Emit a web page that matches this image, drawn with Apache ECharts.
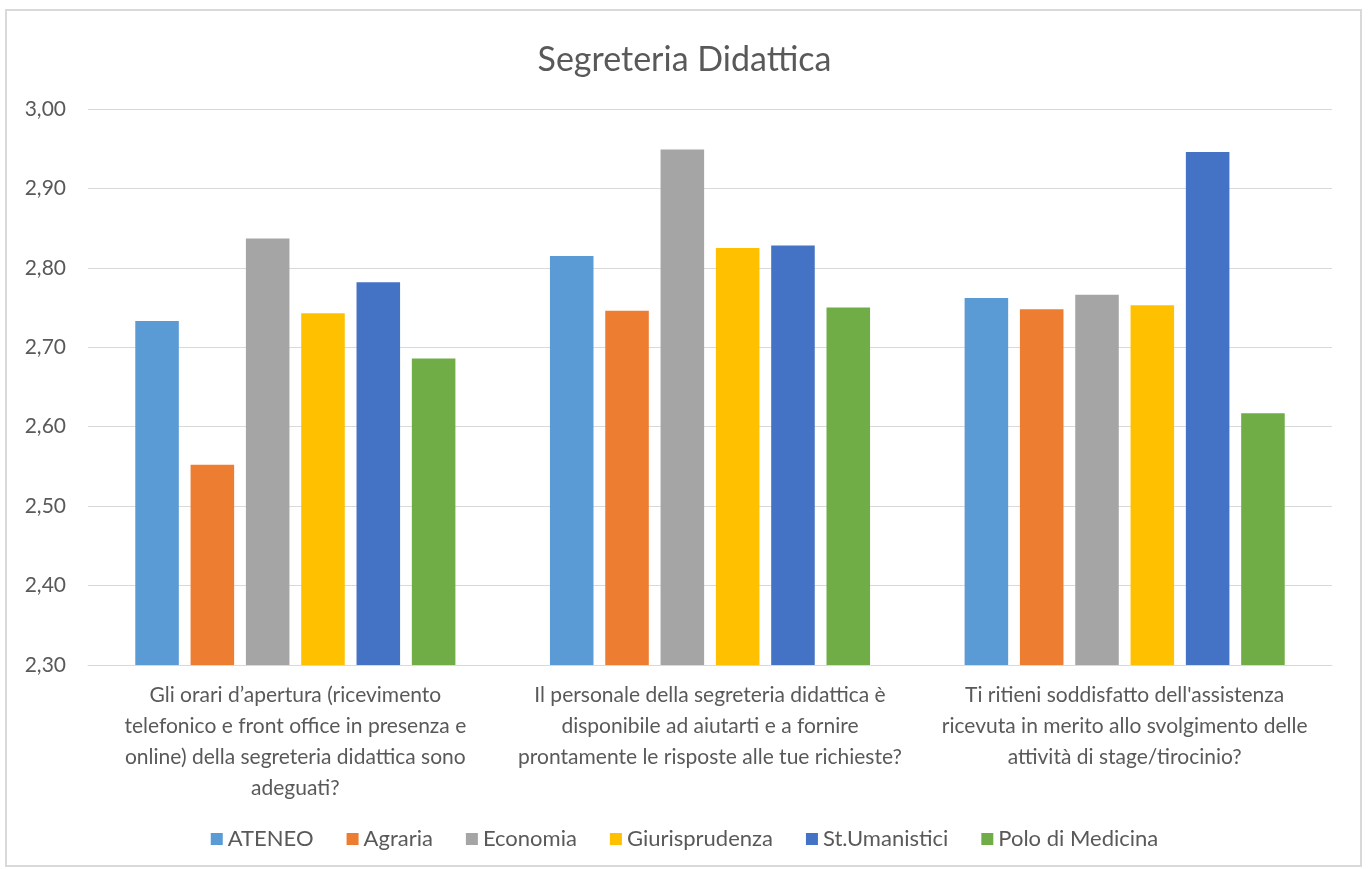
<!DOCTYPE html>
<html>
<head>
<meta charset="utf-8">
<script src="https://cdn.jsdelivr.net/npm/echarts@6/dist/echarts.min.js"></script>
<style>
  html, body { margin: 0; padding: 0; background: #fff; }
  #main { width: 1369px; height: 870px; }
</style>
</head>
<body>
<div id="main"></div>
<script>
// domande (assi x)
var categories = [
  'Gli orari d\u2019apertura (ricevimento\ntelefonico e front office in presenza e\nonline) della segreteria didattica sono\nadeguati?',
  'Il personale della segreteria didattica è\ndisponibile ad aiutarti e a fornire\nprontamente le risposte alle tue richieste?',
  'Ti ritieni soddisfatto dell\'assistenza\nricevuta in merito allo svolgimento delle\nattività di stage/tirocinio?'
]
var seriesNames = ['ATENEO', 'Agraria', 'Economia', 'Giurisprudenza', 'St.Umanistici', 'Polo di Medicina']
var ateneo = [2.733, 2.815, 2.762]
var agraria = [2.552, 2.746, 2.748]
var economia = [2.837, 2.949, 2.766]
var giurisprudenza = [2.743, 2.825, 2.753]
var umanistici = [2.782, 2.828, 2.946]
var medicina = [2.686, 2.750, 2.617]
var colori = ['#5B9BD5', '#ED7D31', '#A5A5A5', '#FFC000', '#4472C4', '#70AD47']

var valori = [ateneo, agraria, economia, giurisprudenza, umanistici, medicina]
var font = 'Lato, "Open Sans", sans-serif'

var chart = echarts.init(document.getElementById('main'))

var series = seriesNames.map(function (nome, i) {
  return {
    name: nome,
    type: 'bar',
    data: valori[i],
    barGap: '27%',
    barCategoryGap: '22.8%',
    itemStyle: { color: colori[i] }
  }
})

var option = {
  animation: false,
  color: colori,
  title: {
    text: 'Segreteria Didattica',
    left: 'center',
    top: 38,
    textStyle: { fontFamily: font, fontSize: 34, fontWeight: 'normal', color: '#595959' }
  },
  graphic: [{
    type: 'rect',
    shape: { x: 6, y: 10, width: 1355, height: 856 },
    style: { fill: 'none', stroke: '#d9d9d9', lineWidth: 2 },
    silent: true
  }],
  legend: {
    data: seriesNames,
    bottom: 15,
    left: 'center',
    icon: 'rect',
    itemWidth: 12,
    itemHeight: 12,
    itemGap: 33,
    textStyle: { fontFamily: font, fontSize: 22, color: '#595959' }
  },
  grid: { left: 88, right: 37, top: 109, bottom: 205 },
  xAxis: {
    type: 'category',
    data: categories,
    axisTick: { show: false },
    axisLine: { lineStyle: { color: '#d9d9d9' } },
    axisLabel: {
      interval: 0,
      margin: 15,
      fontFamily: font,
      fontSize: 21,
      lineHeight: 31,
      color: '#595959'
    }
  },
  yAxis: {
    type: 'value',
    min: 2.3,
    max: 3.0,
    interval: 0.1,
    axisLine: { show: false },
    axisTick: { show: false },
    splitLine: { lineStyle: { color: '#d9d9d9' } },
    axisLabel: {
      margin: 22,
      fontFamily: font,
      fontSize: 21,
      color: '#595959',
      formatter: function (v) { return v.toFixed(2).replace('.', ',') }
    }
  },
  series: series
}

chart.setOption(option)
</script>
</body>
</html>
